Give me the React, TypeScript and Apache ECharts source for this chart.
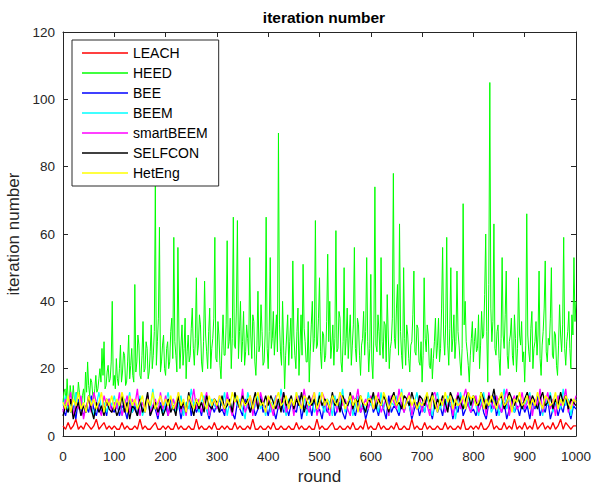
import React, { useEffect, useRef } from "react";
import * as echarts from "echarts";

const FONT = "'Liberation Sans', Arial, Helvetica, sans-serif";

const xTicks = { min: 0, max: 1000, interval: 100 };
const yTicks = { min: 0, max: 120, interval: 20 };

const names = ["LEACH", "HEED", "BEE", "BEEM", "smartBEEM", "SELFCON", "HetEng"];
const colors = ["#ff0000", "#00ff00", "#0000ff", "#00ffff", "#ff00ff", "#000000", "#ffff00"];

// HEED sampled every 2 rounds (0..1000)
const heedStep = 2;
const heed = [
  10, 13, 14, 9, 17, 11, 9, 15, 12, 10, 15, 11, 8, 13, 11, 16, 13, 10, 9, 12, 14, 10, 19, 13, 22, 15, 12, 17, 16, 12, 11, 14, 18, 13, 14, 17, 20, 16, 26, 18, 28, 14, 15, 19, 21, 16, 17, 22, 40, 15,
  18, 14, 23, 17, 15, 20, 27, 16, 19, 25, 24, 15, 16, 22, 30, 17, 21, 26, 18, 16, 45, 19, 22, 30, 27, 18, 17, 24, 34, 19, 20, 28, 26, 17, 19, 25, 33, 20, 24, 31, 75, 21, 28, 35, 62, 19, 22, 27, 30, 20,
  18, 26, 28, 20, 22, 31, 35, 23, 59, 28, 24, 19, 56, 30, 20, 27, 33, 21, 26, 35, 17, 25, 30, 22, 24, 32, 38, 26, 21, 29, 47, 24, 27, 36, 33, 22, 19, 28, 46, 30, 25, 20, 31, 38, 20, 26, 29, 35, 59, 23,
  22, 34, 30, 21, 17, 27, 36, 24, 24, 33, 58, 26, 28, 35, 20, 29, 65, 27, 26, 38, 64, 23, 31, 40, 22, 28, 37, 21, 25, 33, 29, 24, 53, 30, 23, 36, 34, 22, 18, 27, 43, 25, 27, 39, 31, 21, 22, 30, 65, 26,
  20, 31, 53, 26, 29, 37, 24, 30, 36, 25, 90, 33, 25, 21, 40, 27, 14, 24, 30, 36, 21, 28, 35, 23, 52, 30, 24, 20, 31, 38, 18, 27, 36, 24, 51, 32, 28, 22, 22, 34, 16, 25, 33, 40, 25, 29, 64, 26, 27, 35,
  47, 25, 20, 31, 30, 22, 24, 34, 54, 28, 40, 23, 27, 33, 21, 29, 61, 25, 26, 37, 35, 22, 19, 28, 50, 24, 29, 38, 23, 30, 36, 21, 27, 33, 56, 26, 22, 35, 33, 24, 18, 27, 29, 37, 24, 31, 53, 28, 19, 26,
  48, 22, 17, 30, 74, 27, 25, 36, 31, 24, 53, 28, 23, 34, 33, 22, 42, 30, 20, 26, 28, 35, 78, 29, 26, 38, 45, 24, 63, 31, 24, 20, 50, 29, 21, 33, 30, 23, 19, 27, 28, 36, 49, 25, 24, 33, 32, 22, 21, 28,
  16, 24, 47, 29, 25, 33, 30, 21, 20, 26, 17, 23, 28, 35, 23, 27, 35, 22, 26, 38, 56, 30, 24, 33, 59, 27, 21, 32, 50, 25, 29, 36, 23, 28, 49, 31, 27, 22, 18, 26, 69, 33, 40, 28, 25, 21, 16, 24, 29, 34,
  22, 28, 32, 25, 26, 36, 20, 27, 37, 29, 30, 42, 60, 31, 16, 45, 105, 38, 28, 34, 63, 26, 24, 31, 33, 23, 18, 29, 53, 30, 26, 36, 49, 24, 20, 28, 30, 35, 24, 21, 36, 29, 19, 26, 47, 30, 27, 34, 22, 25,
  16, 27, 66, 30, 25, 22, 32, 37, 20, 26, 28, 34, 24, 30, 49, 23, 18, 27, 31, 38, 52, 25, 22, 29, 27, 35, 50, 24, 23, 31, 30, 21, 18, 27, 39, 30, 25, 33, 59, 26, 21, 28, 31, 37, 26, 20, 36, 30, 53, 34,
  40,
];

// other protocols sampled every 5 rounds (0..1000)
const smallStep = 5;
const leach = [
  3, 2, 4, 2, 3, 5, 2, 3, 2, 4, 3, 2, 3, 5, 2, 3, 4, 2, 3, 2,
  3, 2, 2, 4, 2, 3, 2, 2, 3, 2, 5, 2, 3, 2, 2, 3, 4, 2, 2, 3,
  2, 3, 2, 2, 4, 2, 3, 2, 2, 3, 2, 2, 5, 2, 3, 2, 2, 3, 2, 4,
  2, 2, 3, 2, 3, 2, 2, 4, 2, 3, 2, 2, 3, 2, 5, 2, 2, 3, 2, 2,
  3, 2, 4, 2, 2, 3, 2, 2, 3, 2, 2, 4, 2, 3, 2, 2, 3, 2, 2, 5,
  2, 3, 2, 2, 3, 4, 2, 2, 3, 2, 2, 3, 2, 4, 2, 2, 3, 2, 5, 2,
  3, 2, 2, 4, 2, 3, 2, 2, 3, 2, 4, 2, 2, 3, 2, 2, 5, 2, 3, 2,
  2, 4, 2, 3, 2, 2, 3, 2, 2, 4, 2, 3, 2, 2, 3, 2, 5, 2, 2, 3,
  2, 3, 2, 4, 2, 2, 3, 5, 2, 3, 2, 2, 4, 2, 3, 2, 5, 2, 3, 2,
  4, 2, 3, 2, 5, 2, 3, 4, 2, 3, 2, 4, 2, 3, 5, 2, 4, 3, 2, 3,
  3,
];
const bee = [
  8, 6, 10, 7, 9, 5, 11, 8, 6, 9, 7, 12, 8, 6, 10, 7, 9, 6, 11, 8,
  7, 10, 6, 9, 8, 5, 11, 7, 9, 6, 10, 8, 7, 12, 6, 9, 8, 5, 10, 7,
  9, 6, 11, 8, 7, 10, 5, 9, 8, 12, 6, 10, 7, 9, 6, 11, 8, 5, 9, 7,
  10, 7, 8, 6, 12, 9, 7, 5, 10, 8, 6, 11, 9, 7, 10, 6, 8, 12, 7, 9,
  6, 10, 8, 5, 9, 11, 7, 9, 6, 10, 8, 7, 12, 5, 9, 8, 10, 6, 11, 7,
  8, 5, 10, 7, 9, 12, 6, 8, 10, 7, 5, 9, 11, 8, 6, 10, 7, 9, 5, 8,
  11, 7, 9, 6, 10, 8, 5, 12, 7, 9, 8, 6, 10, 7, 11, 9, 5, 8, 10, 6,
  9, 7, 12, 8, 5, 10, 7, 9, 6, 11, 8, 10, 5, 9, 7, 12, 6, 8, 10, 7,
  8, 6, 9, 11, 7, 5, 10, 8, 12, 6, 9, 7, 10, 5, 8, 11, 7, 9, 6, 10,
  7, 9, 5, 10, 8, 12, 6, 9, 7, 11, 5, 8, 10, 6, 9, 7, 12, 8, 5, 9,
  8,
];
const beem = [
  9, 12, 7, 10, 6, 13, 8, 11, 9, 7, 12, 10, 6, 9, 13, 8, 10, 7, 11, 9,
  12, 8, 10, 6, 11, 9, 13, 7, 10, 8, 12, 6, 9, 11, 7, 14, 8, 10, 9, 6,
  10, 13, 8, 11, 7, 9, 12, 6, 10, 8, 14, 9, 11, 7, 10, 12, 8, 6, 11, 9,
  8, 11, 9, 13, 6, 10, 7, 12, 9, 11, 8, 5, 13, 10, 7, 9, 12, 8, 10, 6,
  11, 7, 10, 12, 8, 14, 9, 6, 11, 10, 7, 13, 9, 8, 12, 6, 10, 11, 7, 9,
  13, 9, 7, 11, 10, 6, 12, 8, 9, 14, 7, 10, 11, 6, 9, 12, 8, 10, 7, 13,
  9, 12, 10, 7, 13, 8, 11, 6, 10, 9, 12, 7, 14, 8, 11, 9, 6, 10, 13, 8,
  10, 7, 12, 9, 6, 11, 13, 8, 10, 7, 12, 9, 11, 5, 10, 13, 8, 9, 12, 7,
  12, 9, 6, 10, 13, 8, 11, 7, 9, 12, 6, 10, 14, 8, 11, 9, 7, 12, 10, 8,
  9, 11, 13, 7, 10, 8, 12, 6, 11, 9, 13, 7, 10, 12, 8, 14, 9, 11, 6, 10,
  11,
];
const smartBeem = [
  7, 11, 9, 13, 6, 10, 8, 12, 5, 9, 11, 7, 13, 10, 8, 6, 12, 9, 11, 7,
  10, 8, 13, 6, 9, 12, 7, 11, 9, 14, 6, 10, 8, 12, 7, 9, 11, 6, 13, 8,
  12, 6, 9, 11, 8, 13, 7, 10, 6, 12, 9, 14, 8, 11, 7, 10, 13, 6, 9, 11,
  8, 12, 10, 7, 13, 9, 6, 11, 10, 8, 14, 7, 9, 12, 6, 11, 8, 13, 10, 7,
  11, 9, 6, 12, 8, 10, 13, 7, 9, 11, 6, 12, 10, 8, 14, 9, 7, 11, 13, 6,
  9, 13, 11, 8, 6, 12, 10, 7, 13, 9, 11, 8, 6, 12, 10, 14, 7, 9, 11, 8,
  12, 8, 10, 13, 7, 9, 11, 6, 12, 10, 8, 14, 9, 7, 11, 13, 6, 10, 8, 12,
  7, 11, 9, 6, 12, 13, 8, 10, 11, 7, 9, 12, 6, 10, 13, 8, 11, 14, 9, 7,
  10, 12, 7, 9, 11, 6, 13, 10, 8, 12, 9, 7, 11, 14, 6, 10, 12, 8, 9, 13,
  8, 10, 12, 6, 11, 9, 14, 7, 10, 13, 8, 11, 6, 12, 9, 10, 14, 7, 11, 9,
  12,
];
const selfcon = [
  6, 9, 7, 11, 5, 8, 10, 6, 9, 7, 12, 8, 5, 10, 7, 9, 6, 11, 8, 7,
  9, 6, 8, 12, 7, 10, 5, 9, 8, 6, 11, 7, 9, 13, 6, 8, 10, 7, 9, 6,
  8, 11, 7, 9, 6, 12, 8, 10, 7, 13, 9, 6, 11, 8, 10, 7, 12, 9, 8, 11,
  10, 7, 12, 8, 9, 11, 7, 13, 10, 8, 12, 9, 11, 7, 10, 13, 8, 11, 9, 12,
  9, 12, 10, 8, 11, 7, 13, 9, 10, 12, 8, 11, 9, 13, 7, 10, 12, 9, 11, 8,
  12, 9, 11, 10, 8, 13, 9, 11, 7, 12, 10, 9, 13, 8, 11, 10, 12, 9, 7, 11,
  10, 13, 8, 11, 9, 12, 10, 7, 11, 13, 9, 10, 8, 12, 11, 9, 13, 10, 8, 12,
  11, 9, 12, 10, 13, 8, 11, 9, 12, 10, 7, 13, 11, 9, 12, 10, 8, 11, 13, 9,
  12, 10, 9, 13, 11, 8, 12, 10, 14, 9, 11, 12, 8, 10, 13, 11, 9, 12, 10, 8,
  11, 13, 9, 12, 10, 8, 11, 13, 9, 10, 12, 8, 11, 9, 13, 10, 12, 8, 11, 10,
  9,
];
const hetEng = [
  10, 8, 12, 7, 11, 9, 13, 8, 10, 7, 12, 9, 11, 8, 10, 13, 7, 11, 9, 12,
  8, 11, 9, 13, 10, 7, 12, 9, 11, 8, 10, 12, 7, 11, 9, 13, 8, 10, 12, 9,
  11, 9, 12, 8, 10, 13, 9, 11, 7, 12, 10, 8, 11, 9, 13, 10, 8, 12, 9, 11,
  9, 12, 10, 8, 11, 9, 13, 10, 12, 8, 11, 9, 10, 12, 8, 11, 13, 9, 10, 7,
  12, 10, 8, 11, 13, 9, 10, 12, 8, 11, 9, 13, 10, 8, 12, 11, 9, 10, 13, 8,
  10, 13, 9, 11, 8, 12, 10, 9, 13, 11, 8, 10, 12, 9, 11, 7, 12, 10, 9, 11,
  11, 8, 12, 10, 9, 13, 11, 8, 10, 12, 9, 11, 13, 8, 10, 12, 9, 11, 8, 10,
  9, 11, 13, 8, 12, 10, 7, 11, 9, 13, 10, 12, 8, 11, 9, 10, 12, 8, 13, 11,
  12, 9, 10, 13, 8, 11, 9, 12, 10, 8, 11, 13, 9, 10, 12, 7, 11, 10, 13, 9,
  10, 12, 8, 11, 9, 13, 10, 8, 12, 11, 9, 10, 13, 8, 11, 9, 12, 10, 8, 11,
  10,
];

const seriesValues = [leach, heed, bee, beem, smartBeem, selfcon, hetEng];
const seriesSteps = [smallStep, heedStep, smallStep, smallStep, smallStep, smallStep, smallStep];
const seriesWidths = [1.3, 1, 1.3, 1.3, 1.3, 1.3, 1.4];

export default function App() {
  const ref = useRef<HTMLDivElement>(null);

  useEffect(() => {
    const chart = echarts.init(ref.current!, null, { renderer: "svg" });
    const axisColor = "#262626";
    const baseAxis = {
      type: "value" as const,
      axisLine: { show: true, onZero: false, lineStyle: { color: axisColor, width: 1 } },
      axisTick: { show: true, inside: true, length: 5, lineStyle: { color: axisColor, width: 1 } },
      splitLine: { show: false },
    };
    const labelStyle = { color: axisColor, fontSize: 13.5, fontFamily: FONT };

    chart.setOption({
      animation: false,
      backgroundColor: "#ffffff",
      title: {
        text: "iteration number",
        left: 319,
        top: 4,
        textAlign: "center",
        textStyle: { fontSize: 15.5, fontWeight: "bold", color: "#000000", fontFamily: FONT },
      },
      grid: { left: 63, right: 17, top: 32, bottom: 49, containLabel: false, outerBoundsMode: "none" },
      legend: {
        orient: "vertical",
        left: 72,
        top: 40,
        padding: [4, 11, 4, 10],
        itemGap: 2,
        itemWidth: 46,
        itemHeight: 1.5,
        itemTextGap: 5,
        icon: "rect",
        backgroundColor: "#ffffff",
        borderColor: "#2b2b2b",
        borderWidth: 1,
        textStyle: { fontSize: 14, color: "#000000", fontFamily: FONT, lineHeight: 18 },
        data: names,
      },
      xAxis: [
        {
          ...baseAxis,
          position: "bottom",
          min: xTicks.min,
          max: xTicks.max,
          interval: xTicks.interval,
          axisLabel: { ...labelStyle, margin: 13, formatter: (v: number) => String(v) },
          name: "round",
          nameLocation: "middle",
          nameGap: 29,
          nameTextStyle: { fontSize: 17, color: axisColor, fontFamily: FONT, lineHeight: 18 },
        },
        {
          ...baseAxis,
          position: "top",
          min: xTicks.min,
          max: xTicks.max,
          interval: xTicks.interval,
          axisLabel: { show: false },
        },
      ],
      yAxis: [
        {
          ...baseAxis,
          position: "left",
          min: yTicks.min,
          max: yTicks.max,
          interval: yTicks.interval,
          axisLabel: { ...labelStyle, margin: 8 },
          name: "iteration number",
          nameLocation: "middle",
          nameGap: 32,
          nameTextStyle: { fontSize: 17, color: axisColor, fontFamily: FONT },
        },
        {
          ...baseAxis,
          position: "right",
          min: yTicks.min,
          max: yTicks.max,
          interval: yTicks.interval,
          axisLabel: { show: false },
        },
      ],
      series: names.map((name, k) => ({
        name,
        type: "line",
        xAxisIndex: 0,
        yAxisIndex: 0,
        showSymbol: false,
        symbol: "none",
        data: seriesValues[k].map((v, i) => [i * seriesSteps[k], v]),
        lineStyle: { color: colors[k], width: seriesWidths[k] },
        itemStyle: { color: colors[k] },
        emphasis: { disabled: true },
      })),
    });

    return () => chart.dispose();
  }, []);

  return (
    <div
      ref={ref}
      style={{ position: "fixed", left: 0, top: 0, width: 593, height: 485, background: "#fff" }}
    />
  );
}
